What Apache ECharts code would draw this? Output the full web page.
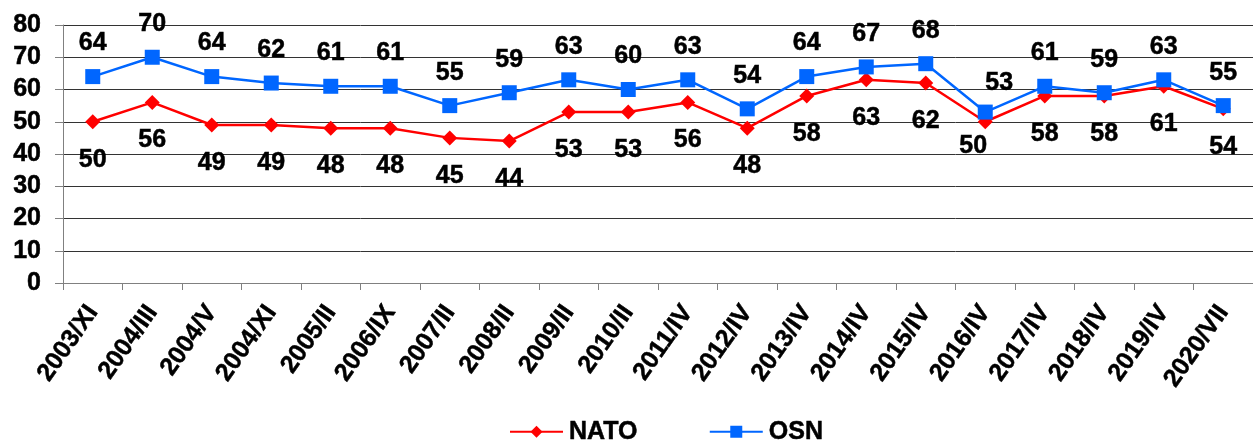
<!DOCTYPE html>
<html>
<head>
<meta charset="utf-8">
<script src="https://cdn.jsdelivr.net/npm/echarts@6/dist/echarts.min.js"></script>
<style>
html,body{margin:0;padding:0;background:#fff;}
#chart{width:1253px;height:441px;}
</style>
</head>
<body>
<div id="chart"></div>
<script>
const categories = ["2003/XI","2004/III","2004/V","2004/XI","2005/II","2006/IX","2007/II","2008/II","2009/II","2010/II","2011/IV","2012/IV","2013/IV","2014/IV","2015/IV","2016/IV","2017/IV","2018/IV","2019/IV","2020/VII"];
const natoValues = [50,56,49,49,48,48,45,44,53,53,56,48,58,63,62,50,58,58,61,54];
const osnValues = [64,70,64,62,61,61,55,59,63,60,63,54,64,67,68,53,61,59,63,55];
const yTicks = [0,10,20,30,40,50,60,70,80];

const FONT = "'Liberation Sans', Arial, sans-serif";
const bold = {fontFamily:FONT, fontWeight:'bold', color:'#000', textBorderColor:'#000', textBorderWidth:0.5};
const chart = echarts.init(document.getElementById('chart'), null, {renderer:'canvas'});

const natoData = natoValues.map((v,i)=> i===15 ? {value:v, label:{offset:[-12,-14]}} : v);
const osnData = osnValues.map((v,i)=> i===15 ? {value:v, label:{offset:[14,4]}} : v);

chart.setOption({
  animation:false,
  backgroundColor:'#ffffff',
  grid:{left:63, top:25, width:1200, height:258, containLabel:false},
  legend:{
    top:419, left:509, padding:0,
    itemWidth:53, itemHeight:15, itemGap:71,
    textStyle:Object.assign({fontSize:25, padding:[0,0,0,1]}, bold),
    data:['NATO','OSN']
  },
  xAxis:{
    type:'category', data:categories, boundaryGap:true,
    axisLine:{lineStyle:{color:'#808080', width:1}},
    axisTick:{show:true, length:7, lineStyle:{color:'#808080'}},
    axisLabel:Object.assign({interval:0, rotate:55, margin:25, fontSize:25}, bold)
  },
  yAxis:{
    type:'value', min:yTicks[0], max:yTicks[yTicks.length-1], interval:10,
    axisLine:{show:true, lineStyle:{color:'#808080', width:1}},
    axisTick:{show:true, length:8, lineStyle:{color:'#808080'}},
    axisLabel:Object.assign({margin:22, fontSize:25}, bold),
    splitLine:{show:true, lineStyle:{color:'#333333', width:1}}
  },
  series:[
    {
      name:'NATO', type:'line', data:natoData,
      symbol:'diamond', symbolSize:15,
      lineStyle:{color:'#FF0000', width:2.5},
      itemStyle:{color:'#FF0000'},
      label:Object.assign({show:true, position:'bottom', distance:18, fontSize:25}, bold)
    },
    {
      name:'OSN', type:'line', data:osnData,
      symbol:'rect', symbolSize:15,
      lineStyle:{color:'#0066FF', width:2.5},
      itemStyle:{color:'#0066FF'},
      label:Object.assign({show:true, position:'top', distance:13, fontSize:25}, bold)
    }
  ]
});
</script>
</body>
</html>
